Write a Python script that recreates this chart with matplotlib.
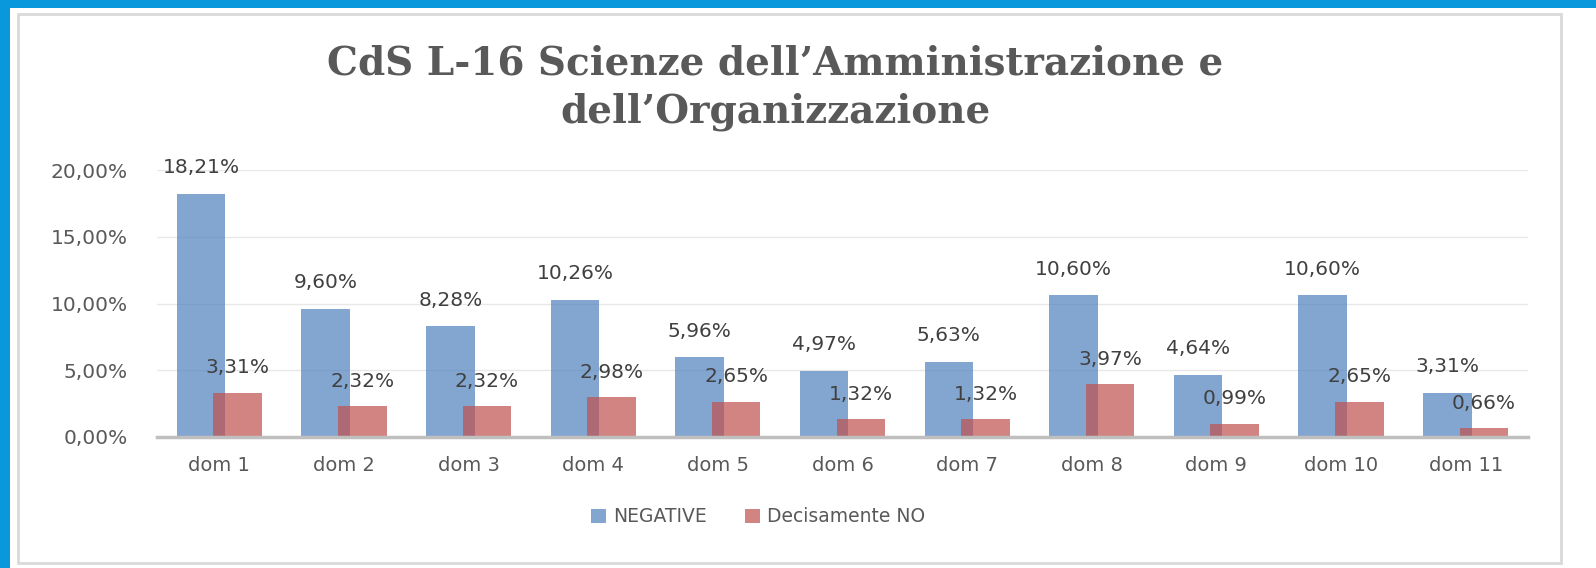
import matplotlib
matplotlib.use("Agg")
import matplotlib.pyplot as plt
from matplotlib.patches import Rectangle
import numpy as np

categories = ["dom 1", "dom 2", "dom 3", "dom 4", "dom 5", "dom 6",
              "dom 7", "dom 8", "dom 9", "dom 10", "dom 11"]
negative = [18.21, 9.60, 8.28, 10.26, 5.96, 4.97, 5.63, 10.60, 4.64, 10.60, 3.31]
decisamente_no = [3.31, 2.32, 2.32, 2.98, 2.65, 1.32, 1.32, 3.97, 0.99, 2.65, 0.66]
series_names = ["NEGATIVE", "Decisamente NO"]
yticks = [0, 5, 10, 15, 20]
title = "CdS L-16 Scienze dell\u2019Amministrazione e\ndell\u2019Organizzazione"

W, H = 1596, 568
fig = plt.figure(figsize=(W / 100, H / 100), dpi=100)
fig.patch.set_facecolor("white")

# blue page border (top and left) and grey chart frame
fig.add_artist(Rectangle((0, 1 - 8 / H), 1, 8 / H, transform=fig.transFigure,
                         facecolor="#0a98dc", edgecolor="none", zorder=0))
fig.add_artist(Rectangle((0, 0), 10 / W, 1, transform=fig.transFigure,
                         facecolor="#0a98dc", edgecolor="none", zorder=0))
fig.add_artist(Rectangle((18 / W, (H - 563) / H), (1561 - 18) / W, (563 - 14) / H,
                         transform=fig.transFigure, facecolor="none",
                         edgecolor="#d9d9d9", linewidth=2, zorder=0))

ax = fig.add_axes([157 / W, (H - 437) / H, 1371 / W, 267 / H])
x = np.arange(len(categories))
w = 0.39
off = 0.147
blue = "#4f81bd"
red = "#c0504d"
b1 = ax.bar(x - off, negative, w, color=blue, alpha=0.7, label=series_names[0], zorder=2)
b2 = ax.bar(x + off, decisamente_no, w, color=red, alpha=0.7, label=series_names[1], zorder=3)

def fmt(v):
    return f"{v:.2f}".replace(".", ",") + "%"

for xi, v in zip(x, negative):
    ax.annotate(fmt(v), (xi - off, v), xytext=(0, 19), textcoords="offset points",
                ha="center", va="center", fontsize=14.5, color="#404040", zorder=5)
for xi, v in zip(x, decisamente_no):
    ax.annotate(fmt(v), (xi + off, v), xytext=(0, 18), textcoords="offset points",
                ha="center", va="center", fontsize=14.5, color="#404040", zorder=5)

ax.set_xlim(-0.5, len(categories) - 0.5)
ax.set_ylim(0, 20)
ax.set_yticks(yticks)
ax.set_yticklabels([f"{t:.2f}".replace(".", ",") + "%" for t in yticks])
ax.set_xticks(x)
ax.set_xticklabels(categories)
ax.tick_params(axis="y", length=0, pad=21, labelsize=14.5, labelcolor="#595959")
ax.tick_params(axis="x", length=0, pad=14, labelsize=14, labelcolor="#595959")
ax.grid(axis="y", color="#e8e8e8", linewidth=1, zorder=0)
ax.set_axisbelow(True)
for s in ["top", "right", "left"]:
    ax.spines[s].set_visible(False)
ax.spines["bottom"].set_color("#bfbfbf")
ax.spines["bottom"].set_linewidth(2.5)
ax.spines["bottom"].set_zorder(4)

fig.text(775 / W, 1 - 88 / H, title, ha="center", va="center",
         fontsize=28, fontweight="bold", family="DejaVu Serif", color="#595959",
         linespacing=1.32)

leg = fig.legend(handles=[b1, b2], labels=series_names, loc="center",
                 bbox_to_anchor=(758 / W, 1 - 517 / H), ncol=2, frameon=False,
                 fontsize=13.5, handlelength=0.8, handleheight=0.8,
                 handletextpad=0.4, columnspacing=2.0)
for t in leg.get_texts():
    t.set_color("#595959")

fig.savefig("out.png", dpi=100, facecolor="white")
